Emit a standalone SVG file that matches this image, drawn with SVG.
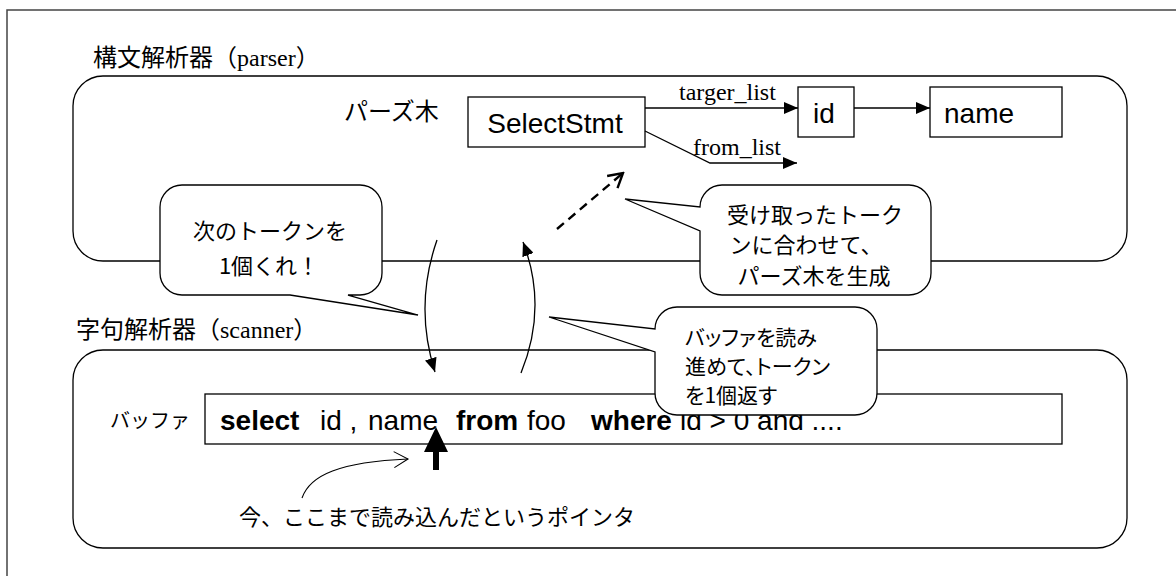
<svg xmlns="http://www.w3.org/2000/svg" width="1176" height="576" viewBox="0 0 1176 576">
<style>
.ln{fill:none;stroke:#000;stroke-width:1.3}
.box{fill:#fff;stroke:#000;stroke-width:1.3}
.bub{fill:#fff;stroke:#000;stroke-width:1.3;stroke-linejoin:miter}
.jp{font-family:"Noto Sans CJK JP","Noto Sans CJK SC",sans-serif;fill:#000}
.sans{font-family:"Liberation Sans",Arial,sans-serif;fill:#000}
.serif{font-family:"Liberation Serif","Times New Roman",serif;fill:#000}
.palt{font-feature-settings:"palt"}
</style>
<defs>
<marker id="tri" viewBox="0 0 14 12" refX="14" refY="6" markerWidth="14" markerHeight="12" markerUnits="userSpaceOnUse" orient="auto">
<path d="M0,0 L14,6 L0,12 Z" fill="#000"/>
</marker>
<marker id="openBold" viewBox="-1 -1 17 18" refX="14" refY="8" markerWidth="17" markerHeight="18" markerUnits="userSpaceOnUse" orient="auto">
<path d="M0,0 L14,8 L0,16" fill="none" stroke="#000" stroke-width="2.4"/>
</marker>
<marker id="openThin" viewBox="-1 -1 17 18" refX="14" refY="8" markerWidth="17" markerHeight="18" markerUnits="userSpaceOnUse" orient="auto">
<path d="M0,0 L14,8 L0,16" fill="none" stroke="#000" stroke-width="1.1"/>
</marker>
</defs>
<rect x="0" y="0" width="1176" height="576" fill="#fff"/>
<rect id="frame" x="7" y="10" width="1190" height="590" fill="none" stroke="#444" stroke-width="1.5"/>

<g id="parser">
<rect x="73" y="76" width="1054" height="185" rx="30" ry="30" class="ln"/>
<text x="93" y="66" font-size="24" class="jp">構文解析器（<tspan class="serif">parser</tspan>）</text>
<text x="344" y="120" font-size="24" class="jp">パーズ木</text>
</g>

<g id="scanner">
<rect x="73" y="350" width="1054" height="198" rx="30" ry="30" class="ln"/>
<text x="76" y="338" font-size="24" class="jp">字句解析器（<tspan class="serif">scanner</tspan>）</text>
<text x="110" y="428" font-size="20" class="jp">バッファ</text>
</g>

<g id="selectstmt">
<rect x="468" y="97" width="177" height="50" class="box"/>
<text x="555" y="133" font-size="28" text-anchor="middle" class="sans">SelectStmt</text>
</g>
<g id="id-node">
<rect x="798" y="87" width="56" height="50" class="box"/>
<text x="824" y="123" font-size="28" text-anchor="middle" class="sans">id</text>
</g>
<g id="name-node">
<rect x="930" y="87" width="132" height="50" class="box"/>
<text x="944" y="123" font-size="28" class="sans">name</text>
</g>

<g id="buffer">
<rect x="205" y="394" width="857" height="50" class="box"/>
<text y="430" font-size="28" class="sans"><tspan x="220" font-weight="bold">select</tspan><tspan x="320">id ,</tspan><tspan x="368">name</tspan><tspan x="456" font-weight="bold">from</tspan><tspan x="527">foo</tspan><tspan x="591" font-weight="bold">where</tspan><tspan x="680">id &gt; 0 and ....</tspan></text>
</g>

<g id="pointer-label">
<text x="239" y="525" font-size="22" class="jp">今、ここまで読み込んだというポインタ</text>
</g>

<g id="connectors">
<line x1="645" y1="108" x2="798" y2="108" class="ln" marker-end="url(#tri)"/>
<text x="679" y="100" font-size="24" class="serif">targer_list</text>
<line x1="854" y1="108" x2="930" y2="108" class="ln" marker-end="url(#tri)"/>
<polyline points="645,131 710,163 797,163" class="ln" marker-end="url(#tri)"/>
<text x="693" y="155" font-size="24" class="serif">from_list</text>
<path d="M437,240 Q414,306 435,372" class="ln" marker-end="url(#tri)"/>
<path d="M521,373 Q548,307 523,242" class="ln" marker-end="url(#tri)"/>
<line x1="557" y1="229" x2="623" y2="173" fill="none" stroke="#000" stroke-width="2.4" stroke-dasharray="9 6" marker-end="url(#openBold)"/>
<path d="M302,498 C310,475 340,462 408,459" fill="none" stroke="#000" stroke-width="1.1" marker-end="url(#openThin)"/>
<path d="M436,427 L448,452 L439,452 L439,470 L433,470 L433,452 L424,452 Z" fill="#000"/>
</g>

<g id="bubble-next">
<path class="bub" d="M182,185 H360 A22,22 0 0 1 382,207 V273 A22,22 0 0 1 360,295 H348 L418,315 L290,295 H182 A22,22 0 0 1 160,273 V207 A22,22 0 0 1 182,185 Z"/>
<text x="270" y="239" font-size="22" text-anchor="middle" class="jp">次のトークンを</text>
<text x="269" y="274" font-size="22" text-anchor="middle" class="jp">1個くれ！</text>
</g>

<g id="bubble-build">
<path class="bub" d="M722,185 H909 A22,22 0 0 1 931,207 V273 A22,22 0 0 1 909,295 H722 A22,22 0 0 1 700,273 V231 L625,199 L700,207 A22,22 0 0 1 722,185 Z"/>
<text x="815" y="223" font-size="22" text-anchor="middle" class="jp">受け取ったトーク</text>
<text x="806" y="253" font-size="22" text-anchor="middle" class="jp">ンに合わせて、</text>
<text x="814" y="284" font-size="22" text-anchor="middle" class="jp">パーズ木を生成</text>
</g>

<g id="bubble-return">
<path class="bub" d="M677,307 H855 A22,22 0 0 1 877,329 V393 A22,22 0 0 1 855,415 H677 A22,22 0 0 1 655,393 V352 L549,317 L655,329 A22,22 0 0 1 677,307 Z"/>
<text x="685" y="345" font-size="21" class="jp palt">バッファを読み</text>
<text x="685" y="374" font-size="21" class="jp palt">進めて、トークン</text>
<text x="685" y="403" font-size="21" class="jp palt">を1個返す</text>
</g>
</svg>
